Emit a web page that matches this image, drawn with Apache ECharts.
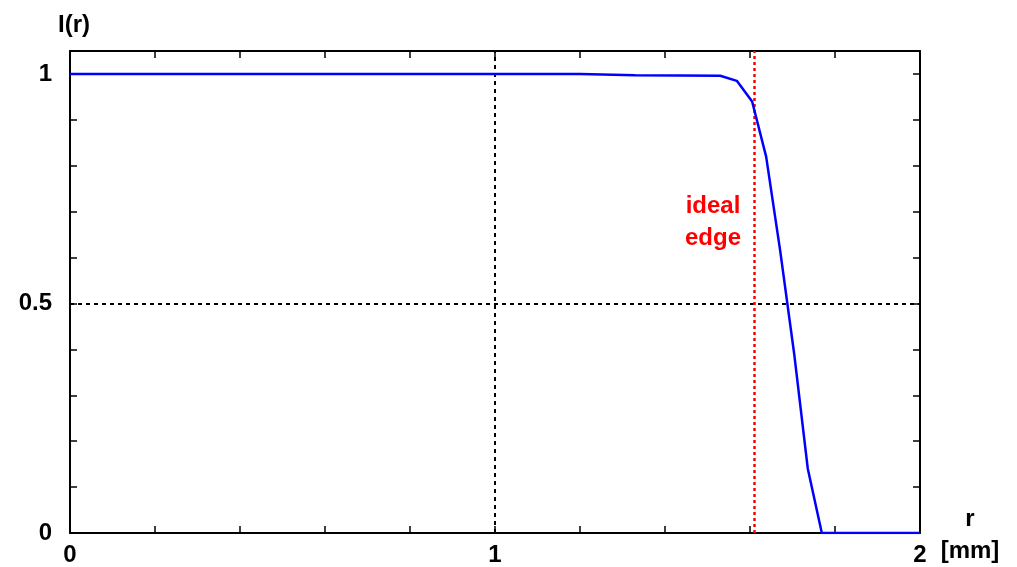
<!DOCTYPE html>
<html>
<head>
<meta charset="utf-8">
<script src="https://cdn.jsdelivr.net/npm/echarts@6/dist/echarts.min.js"></script>
<style>
  html, body { margin: 0; padding: 0; background: #fff; }
  #chart { width: 1017px; height: 567px; }
</style>
</head>
<body>
<div id="chart"></div>
<script>
// radius in mm and normalised intensity
const rValues = [0, 1.2, 1.33, 1.53, 1.569, 1.605, 1.638, 1.671, 1.704, 1.736, 1.769, 2.0]
const intensity = [1.0, 1.0, 0.997, 0.996, 0.985, 0.94, 0.82, 0.615, 0.39, 0.14, 0, 0]
const idealEdge = 1.61
const xLabels = [0, 1, 2]
const yLabels = [0, 0.5, 1]

const font = 'Liberation Sans, Arial, sans-serif'
const chart = echarts.init(document.getElementById('chart'))

const near = (v, list) => list.some(t => Math.abs(t - v) < 1e-6)

const axisLine = { show: true, onZero: false, lineStyle: { color: '#000', width: 2 } }
const tick = { show: true, inside: true, length: 7, lineStyle: { color: '#000', width: 1.5 } }

chart.setOption({
  animation: false,
  backgroundColor: '#fff',
  grid: { left: 70, right: 97, top: 51, bottom: 34 },
  xAxis: [{
    type: 'value', min: 0, max: 2, interval: 0.2,
    axisLine: axisLine, axisTick: tick, splitLine: { show: false },
    axisLabel: {
      color: '#000', fontFamily: font, fontWeight: 'bold', fontSize: 24, margin: 10,
      formatter: v => near(v, xLabels) ? String(Math.round(v)) : ''
    }
  }, {
    type: 'value', position: 'top', min: 0, max: 2, interval: 0.2,
    axisLine: axisLine, axisTick: tick, splitLine: { show: false },
    axisLabel: { show: false }
  }],
  yAxis: [{
    type: 'value', min: 0, max: 1.05, interval: 0.1,
    axisLine: axisLine, axisTick: tick, splitLine: { show: false },
    name: 'I(r)', nameLocation: 'end', nameGap: 14,
    nameTextStyle: { color: '#000', fontFamily: font, fontWeight: 'bold', fontSize: 24, align: 'left', padding: [0, 0, 0, -12] },
    axisLabel: {
      color: '#000', fontFamily: font, fontWeight: 'bold', fontSize: 24, margin: 18,
      formatter: v => near(v, yLabels) ? String(Math.round(v * 10) / 10) : ''
    }
  }, {
    type: 'value', position: 'right', min: 0, max: 1.05, interval: 0.1,
    axisLine: axisLine, axisTick: tick, splitLine: { show: false },
    axisLabel: { show: false }
  }],
  graphic: [{
    type: 'text', x: 970, y: 535,
    style: { text: 'r\n[mm]', fill: '#000', font: 'bold 24px ' + font, align: 'center', verticalAlign: 'middle', lineHeight: 32 }
  }, {
    type: 'text', x: 713, y: 222,
    style: { text: 'ideal\nedge', fill: '#ff0000', font: 'bold 24px ' + font, align: 'center', verticalAlign: 'middle', lineHeight: 32 }
  }],
  series: [{
    type: 'line',
    data: rValues.map((r, i) => [r, intensity[i]]),
    showSymbol: false,
    lineStyle: { color: '#0000ff', width: 2.5 },
    z: 5,
    markLine: {
      silent: true, symbol: 'none', label: { show: false },
      data: [
        { xAxis: 1, lineStyle: { color: '#000', type: [4, 4], width: 2 } },
        { yAxis: 0.5, lineStyle: { color: '#000', type: [4, 4], width: 2 } },
        { xAxis: idealEdge, lineStyle: { color: '#ff0000', type: [3, 3], width: 2.5 } }
      ]
    }
  }]
})
</script>
</body>
</html>
